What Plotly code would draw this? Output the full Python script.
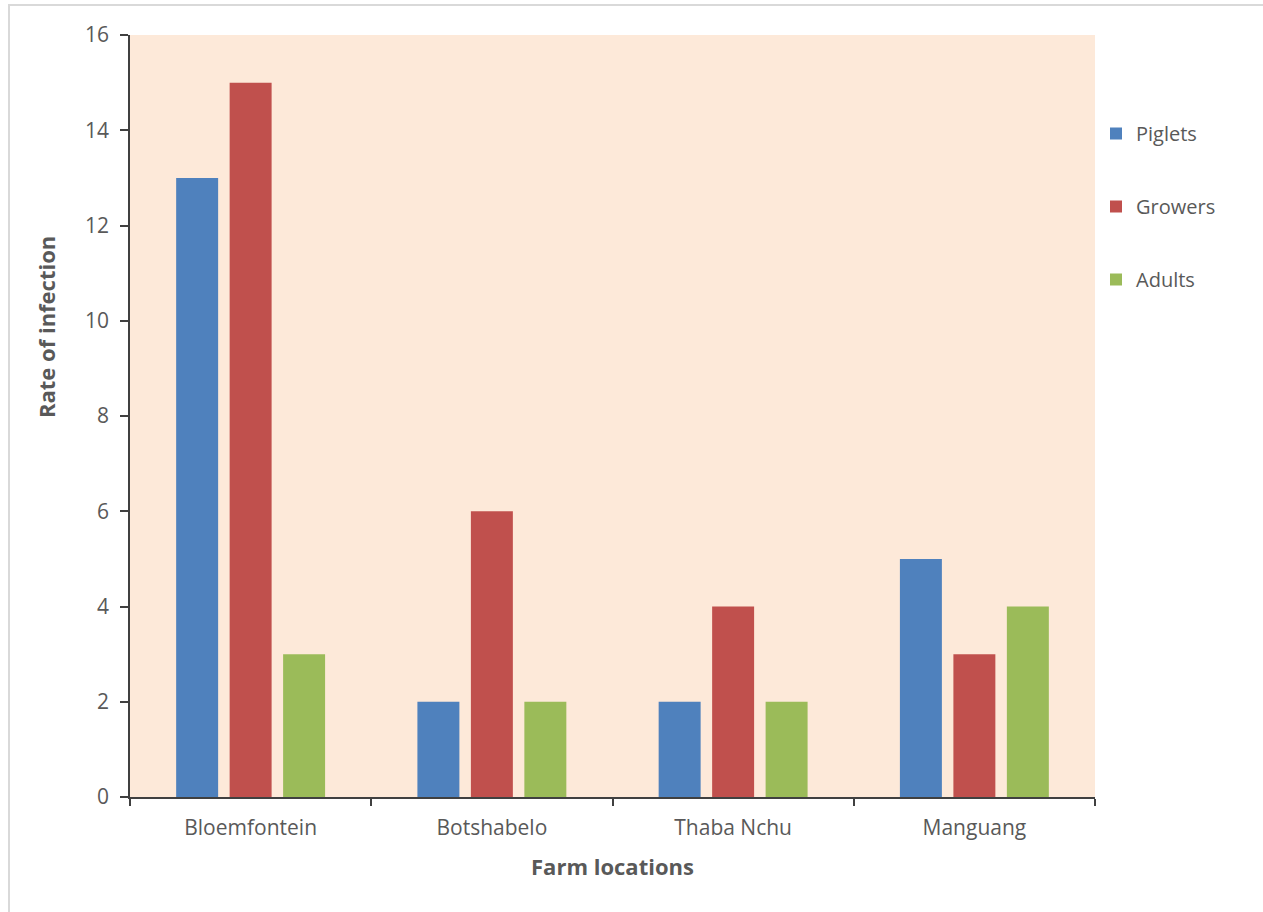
import plotly.graph_objects as go

# Farm survey: infection rate by age group
locations = ["Bloemfontein", "Botshabelo", "Thaba Nchu", "Manguang"]
piglets = [13, 2, 2, 5]
growers = [15, 6, 4, 3]
adults = [3, 2, 2, 4]

series = [
    ("Piglets", piglets, "#4F81BD"),
    ("Growers", growers, "#C0504D"),
    ("Adults", adults, "#9BBB59"),
]

FONT = "Open Sans, Liberation Sans, sans-serif"
TEXT = "#595959"

fig = go.Figure()
for i, (name, vals, color) in enumerate(series):
    fig.add_trace(go.Bar(
        name=name, x=locations, y=vals,
        marker=dict(color=color, line=dict(width=0)),
        legendgroup=f"g{i}",
    ))

W, H = 1263, 912
L, R, T, B = 130, 168, 35, 115
pw, ph = W - L - R, H - T - B

def px_x(px):
    return (px - L) / pw

def px_y(py):
    return (H - B - py) / ph

fig.update_layout(
    width=W, height=H,
    margin=dict(l=L, r=R, t=T, b=B),
    paper_bgcolor="white",
    plot_bgcolor="#FDE9D9",
    barmode="group",
    bargap=0.335,
    bargroupgap=0.215,
    font=dict(family=FONT, color=TEXT, size=15),
    legend=dict(
        x=px_x(1096), y=px_y(114), xanchor="left", yanchor="top",
        font=dict(size=20, color=TEXT),
        tracegroupgap=44,
        traceorder="grouped",
        bgcolor="rgba(0,0,0,0)",
        itemwidth=30,
    ),
    xaxis=dict(
        showgrid=False,
        showline=True, linecolor="#404040", linewidth=1.5,
        ticks="outside", tickson="boundaries", ticklen=7,
        tickcolor="#404040", tickwidth=1.5,
        tickfont=dict(size=21, color=TEXT),
        ticklabelstandoff=11,
        title=dict(text="<b>Farm locations</b>", font=dict(size=22, color=TEXT), standoff=20),
    ),
    yaxis=dict(
        range=[0, 16], dtick=2,
        showgrid=False, zeroline=False,
        showline=True, linecolor="#404040", linewidth=1.5,
        ticks="outside", ticklen=8, tickcolor="#404040", tickwidth=1.5,
        tickfont=dict(size=21, color=TEXT),
        ticklabelstandoff=7,
    ),
    annotations=[
        dict(text="<b>Rate of infection</b>", textangle=-90,
             xref="paper", yref="paper", x=px_x(46), y=px_y(327),
             xanchor="center", yanchor="middle", showarrow=False,
             font=dict(size=22, color=TEXT)),
    ],
    shapes=[
        dict(type="rect", xref="paper", yref="paper",
             x0=px_x(9), x1=px_x(1275), y0=px_y(925), y1=px_y(5),
             line=dict(color="#D9D9D9", width=2), fillcolor="rgba(0,0,0,0)",
             layer="below"),
    ],
)

fig.write_html("out.html")
